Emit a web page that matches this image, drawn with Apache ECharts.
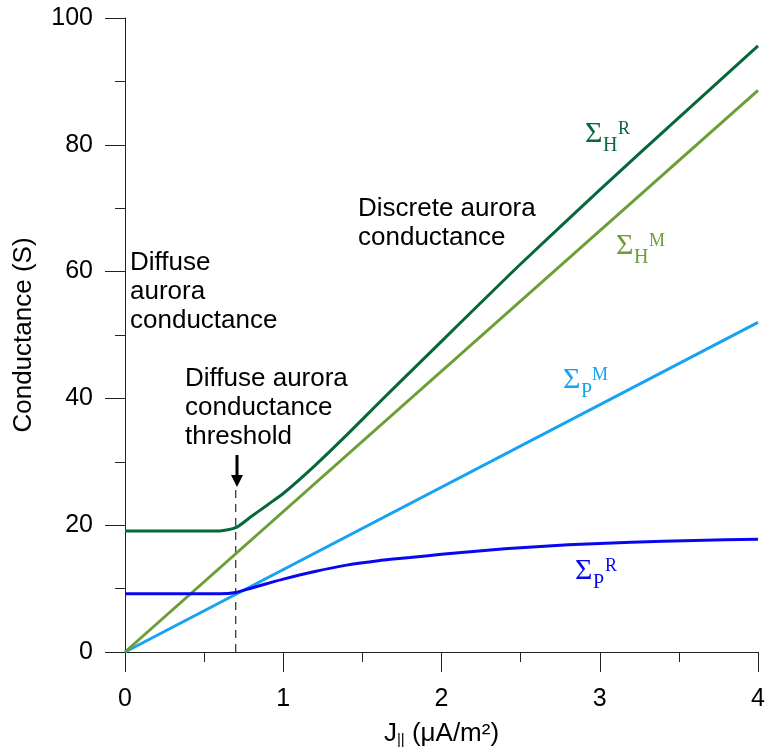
<!DOCTYPE html>
<html lang="en">
<head>
    <meta charset="UTF-8">
    <title>Conductance</title>
    <script src="https://cdn.jsdelivr.net/npm/echarts@6/dist/echarts.min.js"></script>
    <style>
        html, body { margin: 0; padding: 0; background: #fff; }
        #main { width: 767px; height: 749px; }
    </style>
</head>
<body>
<div id="main"></div>

<script type="text/javascript">
    var hallRx = [0, 0.6, 0.7, 0.8, 0.9, 1.0, 1.2, 1.4, 1.6, 1.8, 2.0, 2.2, 2.5, 3.0, 3.5, 4.0];
    var hallR = [19.1, 19.1, 19.6, 21.4, 23.2, 25.0, 29.4, 34.2, 39.2, 44.1, 49.0, 53.9, 61.2, 72.9, 84.3, 95.6];
    var pedRx = [0, 0.6, 0.7, 0.8, 0.9, 1.0, 1.2, 1.4, 1.6, 1.8, 2.0, 2.4, 2.8, 3.2, 3.6, 4.0];
    var pedR = [9.2, 9.2, 9.4, 10.1, 10.8, 11.5, 12.7, 13.7, 14.4, 14.9, 15.4, 16.3, 16.9, 17.3, 17.6, 17.8];
    var modelX = [0, 4];
    var hallM = [0, 88.6];
    var pedM = [0, 52];
    var threshold = 0.7;
    var thresholdTop = 25.9;

    var annotations = [
        'Diffuse\naurora\nconductance',
        'Discrete aurora\nconductance',
        'Diffuse aurora\nconductance\nthreshold'
    ];

    var black = '#222';
    var sans = 'Liberation Sans, Arial, sans-serif';
    var serif = 'Liberation Serif, Times New Roman, serif';

    function pairs(xs, ys) {
        var out = [];
        for (var i = 0; i < xs.length; i++) out.push([xs[i], ys[i]]);
        return out;
    }

    function txt(x, y, s, size, color, family) {
        return {
            type: 'text', x: x, y: y, z: 100,
            style: {
                text: s, fill: color, font: size + 'px ' + family,
                verticalAlign: 'middle', align: 'left'
            }
        };
    }

    // Σ with subscript and superscript
    function sigma(x, y, sub, sup, subW, color) {
        return {
            type: 'group', children: [
                txt(x, y, 'Σ', 30, color, serif),
                txt(x + 18, y + 12, sub, 20, color, serif),
                txt(x + 18 + subW, y - 5, sup, 18, color, serif)
            ]
        };
    }

    function note(x, y, s) {
        return {
            type: 'text', x: x, y: y, z: 100,
            style: {
                text: s, fill: '#000', font: '26px ' + sans,
                lineHeight: 29, verticalAlign: 'top', align: 'left'
            }
        };
    }

    var myChart = echarts.init(document.getElementById('main'));

    var option = {
        backgroundColor: '#ffffff',
        animation: false,
        grid: {left: 125, right: 9, top: 18, bottom: 97, containLabel: false, outerBoundsMode: 'none'},
        xAxis: {
            type: 'value',
            min: 0, max: 4, interval: 1,
            name: '{t|J}{s|||}{t| (μA/m²)}',
            nameLocation: 'middle',
            nameGap: 66,
            nameTextStyle: {
                rich: {
                    t: {fontSize: 26, fontFamily: sans, color: '#000', lineHeight: 32},
                    s: {fontSize: 15, fontFamily: sans, color: '#000', lineHeight: 32, padding: [12, 0, 0, 0]}
                }
            },
            axisLine: {lineStyle: {color: black, width: 1}},
            axisTick: {show: true, inside: false, length: 20, lineStyle: {color: black}},
            minorTick: {show: true, splitNumber: 2, length: 10, lineStyle: {color: black}},
            splitLine: {show: false},
            axisLabel: {fontSize: 25, fontFamily: sans, color: '#000', margin: 35}
        },
        yAxis: {
            type: 'value',
            min: 0, max: 100, interval: 20,
            name: 'Conductance (S)',
            nameLocation: 'middle',
            nameRotate: 90,
            nameGap: 88,
            nameTextStyle: {fontSize: 26, fontFamily: sans, color: '#000'},
            axisLine: {show: true, lineStyle: {color: black, width: 1}},
            axisTick: {show: true, inside: false, length: 20, lineStyle: {color: black}},
            minorTick: {show: true, splitNumber: 2, length: 10, lineStyle: {color: black}},
            splitLine: {show: false},
            axisLabel: {fontSize: 25, fontFamily: sans, color: '#000', margin: 32}
        },
        series: [
            {
                name: 'threshold', type: 'line', showSymbol: false, silent: true,
                data: [[threshold, 0], [threshold, thresholdTop]],
                lineStyle: {color: '#000', width: 1, type: [8, 6]}, z: 1
            },
            {
                name: 'ΣP M', type: 'line', showSymbol: false,
                data: pairs(modelX, pedM),
                lineStyle: {color: '#17a2f2', width: 3}, z: 2
            },
            {
                name: 'ΣH M', type: 'line', showSymbol: false,
                data: pairs(modelX, hallM),
                lineStyle: {color: '#6b9e34', width: 3}, z: 3
            },
            {
                name: 'ΣP R', type: 'line', showSymbol: false,
                smooth: 0.2,
                data: pairs(pedRx, pedR),
                lineStyle: {color: '#0808ee', width: 3}, z: 4
            },
            {
                name: 'ΣH R', type: 'line', showSymbol: false,
                smooth: 0.2,
                data: pairs(hallRx, hallR),
                lineStyle: {color: '#05673a', width: 3}, z: 5
            }
        ],
        graphic: [
            note(130, 248, annotations[0]),
            note(358, 194, annotations[1]),
            note(185, 364, annotations[2]),
            // arrow above the threshold line
            {
                type: 'line', shape: {x1: 237, y1: 455, x2: 237, y2: 478},
                style: {stroke: '#000', lineWidth: 3}
            },
            {
                type: 'polygon', shape: {points: [[231, 475], [243, 475], [237, 487]]},
                style: {fill: '#000'}
            },
            sigma(585, 134, 'H', 'R', 15, '#05673a'),
            sigma(616, 246, 'H', 'M', 15, '#6b9e34'),
            sigma(563, 380, 'P', 'M', 11, '#17a2f2'),
            sigma(575, 571, 'P', 'R', 12, '#0808ee')
        ]
    };

    myChart.setOption(option);
</script>
</body>
</html>
